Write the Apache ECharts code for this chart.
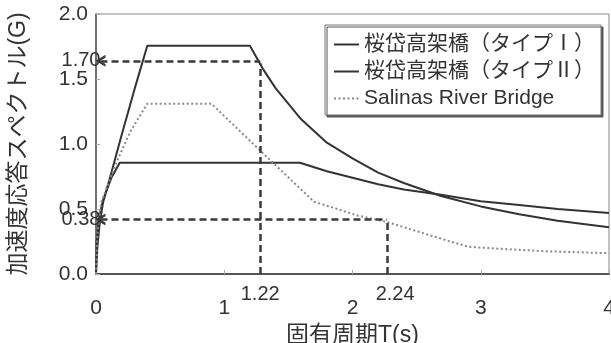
<!DOCTYPE html>
<html><head><meta charset="utf-8">
<script src="https://cdn.jsdelivr.net/npm/echarts@6/dist/echarts.min.js"></script>
<style>html,body{margin:0;padding:0;background:#fff}#c{width:611px;height:343px}</style>
</head><body><div id="c"></div>
<script>
// ---- data ----
const seriesNames = ['桜岱高架橋（タイプⅠ）', '桜岱高架橋（タイプⅡ）', 'Salinas River Bridge'];

const typeI_T = [0, 0.005, 0.02, 0.055, 0.12, 0.185, 1.59, 1.8, 2.0, 2.2, 2.4, 2.69, 3.0, 3.3, 3.6, 4.0];
const typeI_S = [0, 0.25, 0.41, 0.57, 0.74, 0.856, 0.856, 0.79, 0.74, 0.69, 0.65, 0.61, 0.56, 0.53, 0.50, 0.47];

const typeII_T = [0, 0.01, 0.03, 0.055, 0.12, 0.2, 0.3, 0.4, 1.2, 1.3, 1.4, 1.6, 1.8, 2.0, 2.2, 2.4, 2.69, 3.0, 3.3, 3.6, 4.0];
const typeII_S = [0, 0.2, 0.4, 0.55, 0.78, 1.07, 1.42, 1.756, 1.756, 1.58, 1.43, 1.19, 1.01, 0.89, 0.78, 0.70, 0.60, 0.52, 0.46, 0.41, 0.36];

const salinas_T = [0, 0.01, 0.04, 0.16, 0.27, 0.4, 0.9, 1.29, 1.7, 1.85, 2.04, 2.27, 2.63, 2.9, 3.05, 3.5, 4.0];
const salinas_S = [0, 0.3, 0.55, 0.86, 1.1, 1.31, 1.31, 0.94, 0.556, 0.51, 0.45, 0.40, 0.29, 0.21, 0.20, 0.175, 0.16];

// guide (dashed) lines: horizontal value + its label, and the period where it drops to the axis + label
const guideY = [1.64, 0.42];
const guideYLabels = ['1.70', '0.38'];
const guideT = [1.28, 2.27];
const guideTLabels = ['1.22', '2.24'];
const guideStartT = 0.035;

const xTicks = [0, 1, 2, 3, 4];
const yTicks = [0, 0.5, 1.0, 1.5, 2.0];

// ---- chart ----
const zip = (a, b) => a.map((v, i) => [v, b[i]]);
const FONT = "'Liberation Sans', Arial, 'Noto Sans CJK JP', sans-serif";
const CJK = "'Liberation Sans', 'Noto Sans CJK JP', sans-serif";
const chevron = 'path://M0,10 L5,0 L10,10 L7.6,10 L5,4.6 L2.4,10 Z';
const dash = { color: '#3a3a3a', width: 2.5, type: [7, 4] };

const guideData = [];
for (let i = 0; i < guideY.length; i++) {
  guideData.push([
    { coord: [guideStartT, guideY[i]], symbol: chevron, symbolSize: [12, 10], lineStyle: dash,
      label: { show: true, position: 'start', distance: 0, formatter: guideYLabels[i],
               padding: [5, 0, 0, 0],
               color: '#333', fontSize: 20, fontFamily: FONT } },
    { coord: [guideT[i], guideY[i]], symbol: 'none' }
  ]);
  guideData.push([
    { coord: [guideT[i], 0], symbol: 'none', lineStyle: dash,
      label: { show: true, position: 'start', distance: 10, formatter: guideTLabels[i],
               offset: [i === 1 ? 8 : 0, 0],
               color: '#333', fontSize: 20, fontFamily: FONT } },
    { coord: [guideT[i], guideY[i] - 0.02], symbol: 'none' }
  ]);
}

const chart = echarts.init(document.getElementById('c'), null, { renderer: 'canvas' });
chart.setOption({
  animation: false,
  backgroundColor: '#fff',
  grid: { left: 96, right: 2, top: 14, bottom: 69, show: true, borderColor: '#888', borderWidth: 1,
          containLabel: false, outerBoundsMode: 'none' },
  legend: {
    data: seriesNames,
    orient: 'vertical',
    left: 325, top: 25,
    itemWidth: 25, itemHeight: 14, itemGap: 6,
    padding: [9, 6, 6, 8],
    backgroundColor: '#fff',
    borderColor: '#777', borderWidth: 1,
    shadowColor: '#555', shadowBlur: 0, shadowOffsetX: 2, shadowOffsetY: 2,
    itemStyle: { opacity: 0 },
    textStyle: { fontSize: 21, color: '#333', fontFamily: CJK }
  },
  xAxis: {
    type: 'value', min: xTicks[0], max: xTicks[xTicks.length - 1], interval: 1,
    name: '固有周期T(s)', nameLocation: 'middle', nameGap: 50,
    nameTextStyle: { fontSize: 23, color: '#333', fontFamily: CJK },
    axisLine: { show: true, lineStyle: { color: '#555', width: 2 } },
    axisTick: { show: true, inside: true, length: 4, lineStyle: { color: '#aaa' } },
    splitLine: { show: false },
    axisLabel: { margin: 24, fontSize: 21, color: '#333', fontFamily: FONT,
                 formatter: v => String(v) }
  },
  yAxis: {
    type: 'value', min: yTicks[0], max: yTicks[yTicks.length - 1], interval: 0.5,
    name: '加速度応答スペクトル(G)', nameLocation: 'middle', nameGap: 66, nameRotate: 90,
    nameTextStyle: { fontSize: 23, color: '#333', fontFamily: CJK },
    axisLine: { show: true, lineStyle: { color: '#555', width: 1.5 } },
    axisTick: { show: true, inside: true, length: 4, lineStyle: { color: '#aaa' } },
    splitLine: { show: false },
    axisLabel: { margin: 8, fontSize: 21, color: '#333', fontFamily: FONT,
                 padding: [5, 0, 0, 0],
                 formatter: v => v.toFixed(1) }
  },
  series: [
    { name: seriesNames[0], type: 'line', data: zip(typeI_T, typeI_S), symbol: 'none',
      lineStyle: { color: '#333', width: 2 }, itemStyle: { color: '#333' }, z: 3 },
    { name: seriesNames[1], type: 'line', data: zip(typeII_T, typeII_S), symbol: 'none',
      lineStyle: { color: '#333', width: 2 }, itemStyle: { color: '#333' }, z: 3 },
    { name: seriesNames[2], type: 'line', data: zip(salinas_T, salinas_S), symbol: 'none',
      lineStyle: { color: '#8a8a8a', width: 2, type: [2, 2.5] }, itemStyle: { color: '#8a8a8a' }, z: 3 },
    { name: 'guides', type: 'line', data: [], symbol: 'none',
      markLine: { silent: true, animation: false, symbol: ['none', 'none'],
                  lineStyle: dash, itemStyle: { color: '#3a3a3a' },
                  data: guideData } }
  ]
});
</script></body></html>
